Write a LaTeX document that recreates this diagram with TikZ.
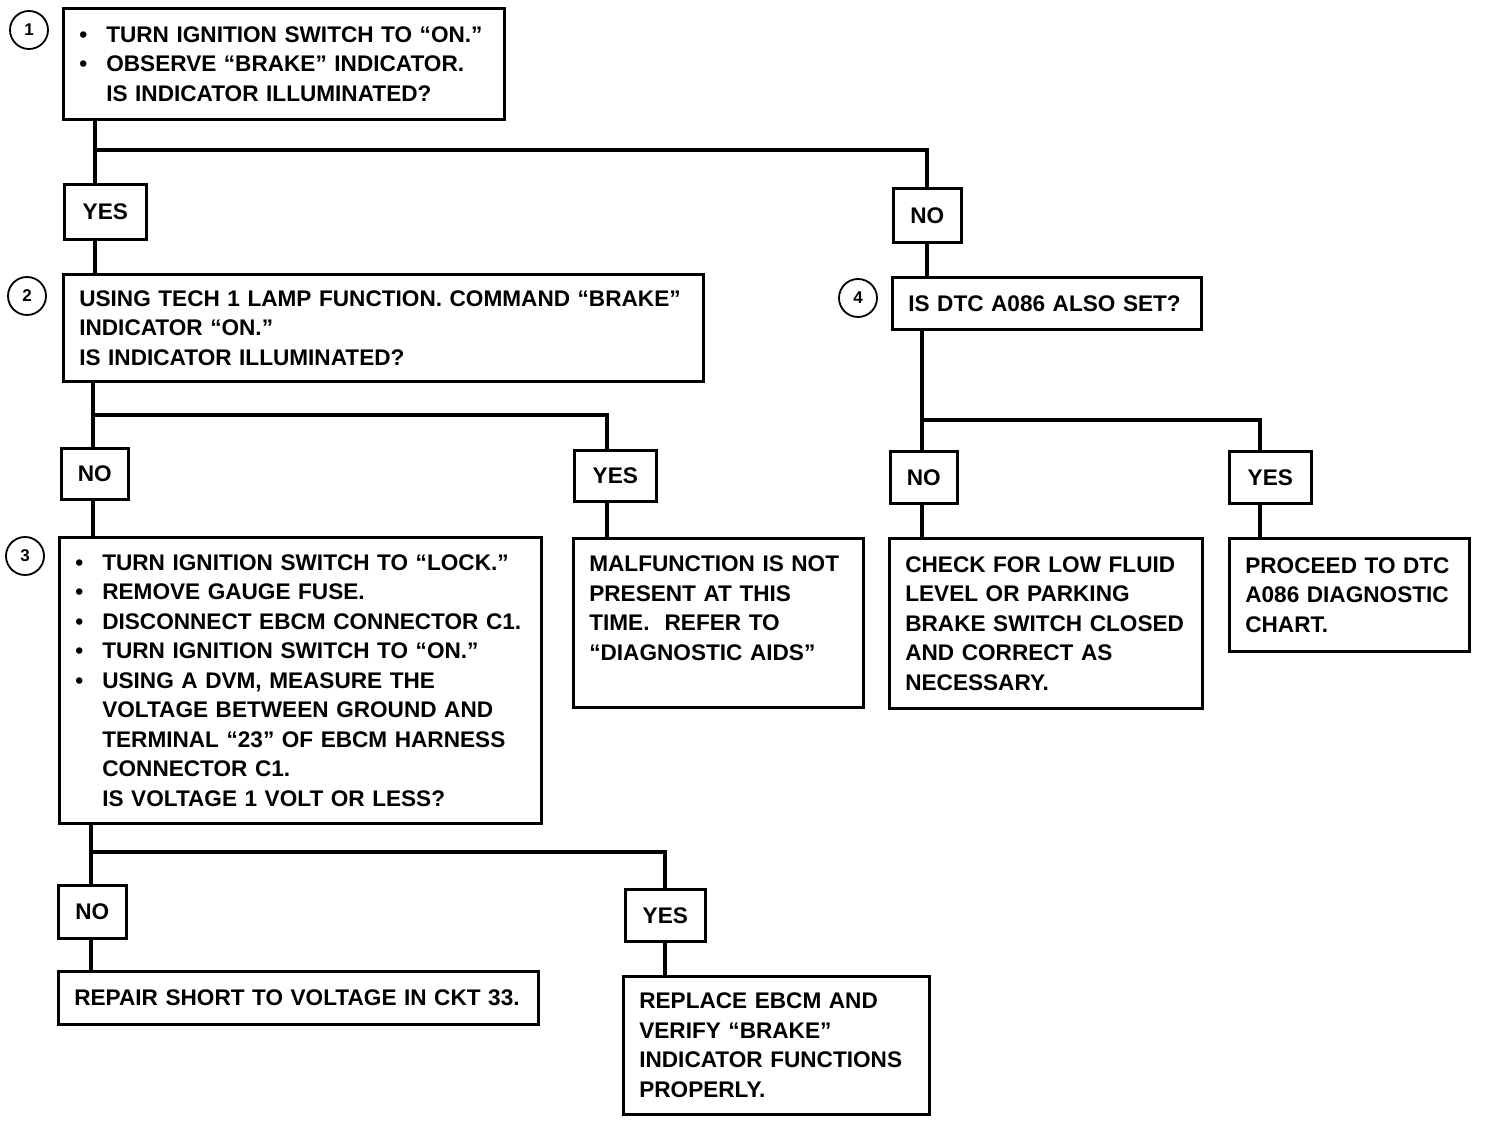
\documentclass[tikz,border=0pt]{standalone}
\usepackage{fontspec}
\setmainfont{Liberation Sans}
\usepackage{xcolor}
\definecolor{cInk}{HTML}{000000}
\usepackage{tikz}
\newcommand{\stepfont}{\bfseries\fontsize{11.3}{14.75}\selectfont}
\newcommand{\bitem}{\makebox[13.5pt][l]{\textbullet}}
\newcommand{\bcont}{\hspace*{13.5pt}}
\tikzset{
  step-box/.style={draw=cInk,line width=1.3pt,anchor=north west,
    inner xsep=8pt,inner ysep=3pt,align=left,font=\stepfont},
  answer-box/.style={draw=cInk,line width=1.3pt,anchor=north west,
    inner sep=0pt,align=center,font=\stepfont},
  % numbered circles to the left of the four checks
  step-num/.style={draw=cInk,circle,line width=0.9pt,minimum size=19pt,
    inner sep=0pt,font=\bfseries\fontsize{8.5}{9}\selectfont},
  link/.style={draw=cInk,line width=2pt},
}

\begin{document}
\begin{tikzpicture}[x=0.5pt,y=-0.5pt]
  \useasboundingbox (0,0) rectangle (1488,1122);
  % step 1
  \node[step-box,text width=204.5pt,minimum height=55.5pt] (q1) at (62,7)
    {\bitem TURN IGNITION SWITCH TO ``ON.''\\
     \bitem OBSERVE ``BRAKE'' INDICATOR.\\
     \bcont IS INDICATOR ILLUMINATED?};
  \node[step-num] (n1) at (29,30) {1};
  \node[answer-box,minimum width=41pt,minimum height=27.5pt] (yes1) at (63,183) {YES};
  \node[answer-box,minimum width=34pt,minimum height=27pt]   (no1)  at (892,187) {NO};
  % step 2
  \node[step-box,text width=304pt,minimum height=53.5pt] (q2) at (62,273)
    {USING TECH 1 LAMP FUNCTION. COMMAND ``BRAKE''\\
     INDICATOR ``ON.''\\
     IS INDICATOR ILLUMINATED?};
  \node[step-num] (n2) at (27,296) {2};
  \node[answer-box,minimum width=33.5pt,minimum height=25.5pt] (no2)  at (60,447) {NO};
  \node[answer-box,minimum width=41pt,minimum height=25.5pt]   (yes2) at (573,449) {YES};
  % step 3
  \node[step-box,text width=225pt,minimum height=143pt] (q3) at (58,536)
    {\bitem TURN IGNITION SWITCH TO ``LOCK.''\\
     \bitem REMOVE GAUGE FUSE.\\
     \bitem DISCONNECT EBCM CONNECTOR C1.\\
     \bitem TURN IGNITION SWITCH TO ``ON.''\\
     \bitem USING A DVM, MEASURE THE\\
     \bcont VOLTAGE BETWEEN GROUND AND\\
     \bcont TERMINAL ``23'' OF EBCM HARNESS\\
     \bcont CONNECTOR C1.\\
     \bcont IS VOLTAGE 1 VOLT OR LESS?};
  \node[step-num] (n3) at (25,556) {3};
  \node[step-box,text width=129pt,minimum height=84.5pt] (r2) at (572,537)
    {MALFUNCTION IS NOT\\
     PRESENT AT THIS\\
     TIME.\ \ REFER TO\\
     ``DIAGNOSTIC AIDS''\\ \mbox{}};
  \node[answer-box,minimum width=34pt,minimum height=26.5pt] (no3)  at (57,884) {NO};
  \node[answer-box,minimum width=40pt,minimum height=26pt]   (yes3) at (624,888) {YES};
  \node[step-box,text width=224pt,minimum height=26.5pt] (r3a) at (57,970)
    {REPAIR SHORT TO VOLTAGE IN CKT 33.};
  \node[step-box,text width=137pt,minimum height=69pt] (r3b) at (622,975)
    {REPLACE EBCM AND\\
     VERIFY ``BRAKE''\\
     INDICATOR FUNCTIONS\\
     PROPERLY.};
  % step 4
  \node[step-box,text width=138.5pt,minimum height=26pt] (q4) at (891,276)
    {IS DTC A086 ALSO SET?};
  \node[step-num] (n4) at (858,298) {4};
  \node[answer-box,minimum width=33.5pt,minimum height=26pt] (no4)  at (889,450) {NO};
  \node[answer-box,minimum width=41pt,minimum height=26pt]   (yes4) at (1228,450) {YES};
  \node[step-box,text width=140.5pt,minimum height=85pt] (r4a) at (888,537)
    {CHECK FOR LOW FLUID\\
     LEVEL OR PARKING\\
     BRAKE SWITCH CLOSED\\
     AND CORRECT AS\\
     NECESSARY.};
  \node[step-box,text width=104pt,minimum height=56.5pt] (r4b) at (1228,537)
    {PROCEED TO DTC\\
     A086 DIAGNOSTIC\\
     CHART.};
  % branch points
  \coordinate (t1)  at (95,150);
  \coordinate (t2)  at (93,415);
  \coordinate (t2r) at (607,415);
  \coordinate (t3)  at (91,852);
  \coordinate (t4)  at (922,420);
  \coordinate (t4r) at (1260,420);
  \draw[link] (q1.south -| t1) -- (t1) -- (yes1.north -| t1);
  \draw[link] (t1) -| (no1.north);
  \draw[link] (yes1.south -| t1) -- (q2.north -| t1);
  \draw[link] (no1.south) -- (q4.north -| no1.south);
  \draw[link] (q2.south -| t2) -- (t2) -- (no2.north -| t2);
  \draw[link] (t2) -- (t2r) -- (yes2.north -| t2r);
  \draw[link] (no2.south -| t2) -- (q3.north -| t2);
  \draw[link] (yes2.south -| t2r) -- (r2.north -| t2r);
  \draw[link] (q3.south -| t3) -- (t3) -- (no3.north -| t3);
  \draw[link] (t3) -| (yes3.north);
  \draw[link] (no3.south -| t3) -- (r3a.north -| t3);
  \draw[link] (yes3.south) -- (r3b.north -| yes3.south);
  \draw[link] (q4.south -| t4) -- (t4) -- (no4.north -| t4);
  \draw[link] (t4) -- (t4r) -- (yes4.north -| t4r);
  \draw[link] (no4.south -| t4) -- (r4a.north -| t4);
  \draw[link] (yes4.south -| t4r) -- (r4b.north -| t4r);
\end{tikzpicture}
\end{document}
